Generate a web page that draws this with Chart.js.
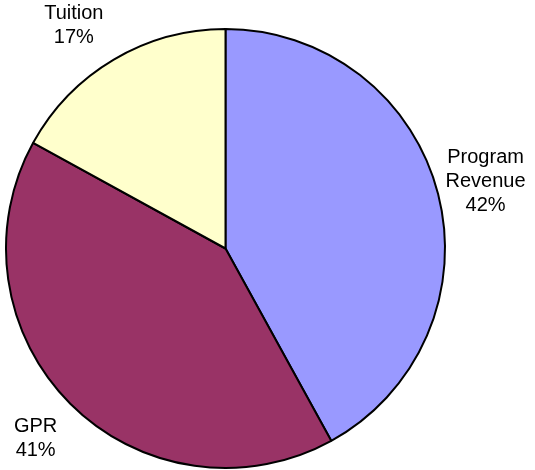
<!DOCTYPE html>
<html>
<head>
<meta charset="utf-8">
<script src="https://cdn.jsdelivr.net/npm/chart.js@4.4.0/dist/chart.umd.min.js"></script>
<style>
  html, body { margin: 0; padding: 0; background: #fff; }
</style>
</head>
<body>
<canvas id="pieChart" width="535" height="470"></canvas>
<script>
// funding sources
var categories = ["Program Revenue", "GPR", "Tuition"];
var shares = [42, 41, 17];
var sliceColors = ["#9999FF", "#993366", "#FFFFCC"];

// draws "name / pct%" outside each slice, like the old excel labels
var outsideLabels = {
    id: 'outsideLabels',
    afterDatasetsDraw: function(chart, args, opts) {
        var ctx = chart.ctx;
        var meta = chart.getDatasetMeta(0);
        var data = chart.data.datasets[0].data;
        var total = data.reduce(function(a, b) { return a + b; }, 0);
        ctx.save();
        ctx.font = opts.font;
        ctx.fillStyle = '#000';
        ctx.textAlign = 'center';
        ctx.textBaseline = 'middle';
        meta.data.forEach(function(arc, i) {
            var p = arc.getProps(['x', 'y', 'startAngle', 'endAngle', 'outerRadius'], true);
            var mid = (p.startAngle + p.endAngle) / 2;
            var r = p.outerRadius + opts.gap;
            var nudge = opts.nudge[i] || [0, 0];
            var cx = p.x + Math.cos(mid) * r + nudge[0];
            var cy = p.y + Math.sin(mid) * r + nudge[1];
            var lines = chart.data.labels[i].split(' ');
            lines.push(Math.round(data[i] / total * 100) + '%');
            var top = cy - (lines.length - 1) * opts.lineHeight / 2;
            lines.forEach(function(t, k) {
                ctx.fillText(t, cx, top + k * opts.lineHeight);
            });
        });
        ctx.restore();
    }
};

var ctxP = document.getElementById("pieChart").getContext('2d');
new Chart(ctxP, {
    type: 'pie',
    data: {
        labels: categories,
        datasets: [
            {
                data: shares,
                backgroundColor: sliceColors,
                borderColor: '#000',
                borderWidth: 2
            }
        ]
    },
    options: {
        responsive: false,
        animation: false,
        layout: { padding: { left: 5, right: 89, top: 28, bottom: 1 } },
        plugins: {
            legend: { display: false },
            tooltip: { enabled: false },
            outsideLabels: {
                font: '20px "Liberation Sans", Arial, sans-serif',
                lineHeight: 24,
                gap: 49,
                nudge: { 2: [-15, 8] }
            }
        }
    },
    plugins: [outsideLabels]
});
</script>
</body>
</html>
